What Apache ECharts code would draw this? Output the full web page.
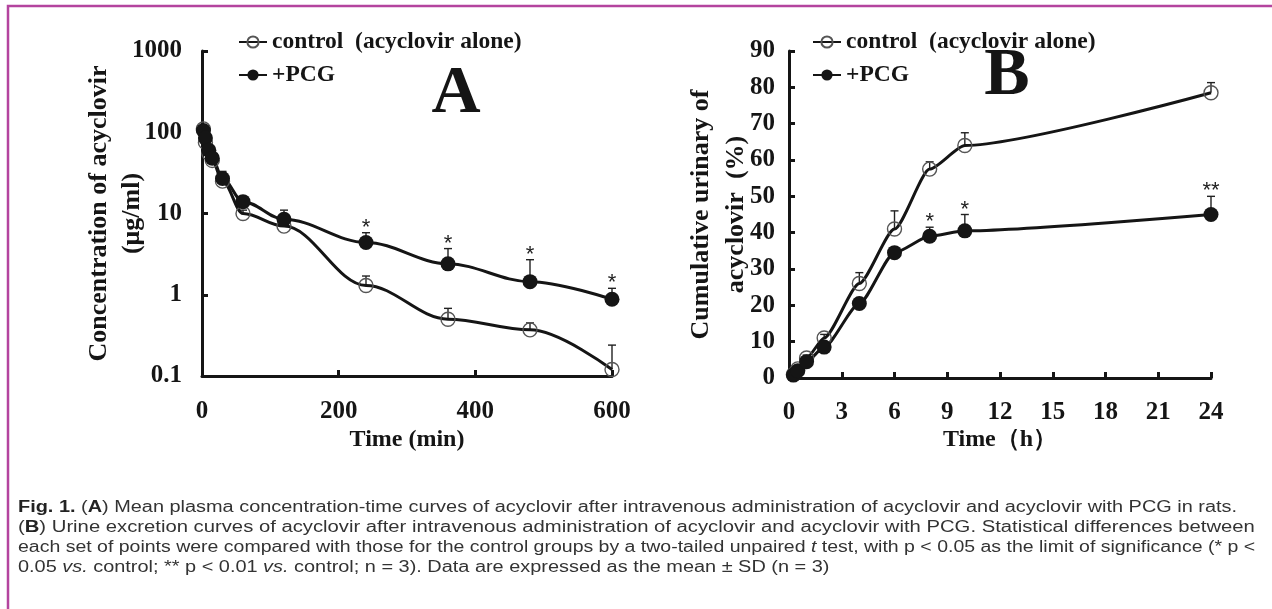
<!DOCTYPE html>
<html>
<head>
<meta charset="utf-8">
<script src="https://cdn.jsdelivr.net/npm/echarts@6/dist/echarts.min.js"></script>
<style>
  html, body { margin: 0; padding: 0; background: #fff; }
  #chart { width: 1272px; height: 609px; }
</style>
</head>
<body>
<div id="chart"></div>
<script>
// Panel A: plasma concentration of acyclovir (µg/ml) against time (min)
const timeA      = [2, 5, 10, 15, 30, 60, 120, 240, 360, 480, 600];
const controlA   = [110, 75, 55, 45, 25, 10, 7, 1.3, 0.5, 0.37, 0.12];
const controlSdA = [8, 6, 5, 4, 8, 1, 0.8, 0.4, 0.18, 0.08, 0.12];
const pcgA       = [105, 85, 60, 48, 27, 14, 8.5, 4.4, 2.4, 1.45, 0.88];
const pcgSdA     = [10, 8, 5, 4, 5, 1.5, 2.5, 1.4, 1.3, 1.25, 0.32];
const sigA       = ['', '', '', '', '', '', '', '*', '*', '*', '*'];

// Panel B: cumulative urinary excretion of acyclovir (%) against time (h)
const timeB      = [0.25, 0.5, 1, 2, 4, 6, 8, 10, 24];
const controlB   = [1, 2.5, 5.5, 11, 26, 41, 57.5, 64, 78.5];
const controlSdB = [0.3, 0.5, 0.8, 1, 3, 5, 2, 3.5, 2.8];
const pcgB       = [0.8, 2, 4.5, 8.5, 20.5, 34.5, 39, 40.5, 45];
const pcgSdB     = [0.2, 0.4, 0.6, 0.8, 1, 1, 2.5, 4.5, 5];
const sigB       = ['', '', '', '', '', '', '*', '*', '**'];

// Figure caption, one entry per printed line ({b|..} bold, {i|..} italic)
const captionLines = [
  '{b|Fig. 1.} ({b|A}) Mean plasma concentration-time curves of acyclovir after intravenous administration of acyclovir and acyclovir with PCG in rats.',
  '({b|B}) Urine excretion curves of acyclovir after intravenous administration of acyclovir and acyclovir with PCG. Statistical differences between',
  'each set of points were compared with those for the control groups by a two-tailed unpaired {i|t} test, with p < 0.05 as the limit of significance (* p <',
  '0.05 {i|vs.} control; ** p < 0.01 {i|vs.} control; n = 3). Data are expressed as the mean ± SD (n = 3)'
];
const captionStretch = [1.244, 1.266, 1.218, 1.244];

const CONTROL = 'control  (acyclovir alone)';
const PCG = '+PCG';
const SERIF = '"Liberation Serif", "Times New Roman", serif';
const SANS = '"Liberation Sans", Arial, Helvetica, sans-serif';
const INK = '#151515';

const chart = echarts.init(document.getElementById('chart'), null, { renderer: 'canvas' });

function pairs(xs, ys) { return xs.map((x, i) => [x, ys[i]]); }

// upward SD bars with a small cap, plus significance stars above the cap
function errorBars(xs, means, sds, marks, axis) {
  return {
    type: 'custom',
    xAxisIndex: axis, yAxisIndex: axis,
    silent: true, z: 2,
    data: xs.map((x, i) => [x, means[i], means[i] + sds[i]]),
    encode: { x: 0, y: [1, 2] },
    renderItem(params, api) {
      const lo = api.coord([api.value(0), api.value(1)]);
      const hi = api.coord([api.value(0), api.value(2)]);
      const mark = marks ? marks[params.dataIndex] : '';
      const st = { stroke: '#222', lineWidth: 1.4 };
      const children = [
        { type: 'line', shape: { x1: lo[0], y1: lo[1], x2: hi[0], y2: hi[1] }, style: st },
        { type: 'line', shape: { x1: hi[0] - 4, y1: hi[1], x2: hi[0] + 4, y2: hi[1] }, style: st }
      ];
      if (mark) {
        children.push({
          type: 'text', x: hi[0], y: hi[1] - 5,
          style: { text: mark, fontFamily: SANS, fontSize: 22, fill: '#222', align: 'center', verticalAlign: 'middle' }
        });
      }
      return { type: 'group', children };
    }
  };
}

function curve(name, xs, ys, axis, filled, smooth) {
  return {
    name, type: 'line',
    xAxisIndex: axis, yAxisIndex: axis,
    data: pairs(xs, ys),
    smooth, smoothMonotone: 'x',
    symbol: 'circle',
    symbolSize: filled ? 15 : 14,
    lineStyle: { color: INK, width: 3 },
    itemStyle: filled
      ? { color: INK, borderColor: INK, borderWidth: 0 }
      : { color: 'rgba(255,255,255,0)', borderColor: '#555', borderWidth: 1.4 },
    z: 3
  };
}

const tickFont = { fontFamily: SERIF, fontWeight: 'bold', fontSize: 25, color: INK };
const nameFont = { fontFamily: SERIF, fontWeight: 'bold', fontSize: 24, color: INK };
const yNameFont = { fontFamily: SERIF, fontWeight: 'bold', fontSize: 26, color: INK };
const axisLine = { show: true, onZero: false, lineStyle: { color: INK, width: 3 } };
const axisTick = { show: true, inside: true, length: 6, lineStyle: { color: INK, width: 3 } };

const legendBase = {
  orient: 'vertical',
  padding: 0,
  itemWidth: 28, itemHeight: 14, itemGap: 9,
  selectedMode: false,
  textStyle: { fontFamily: SERIF, fontWeight: 'bold', fontSize: 23.5, color: INK },
  data: [CONTROL, PCG]
};

const option = {
  backgroundColor: '#fff',
  animation: false,
  grid: [
    { left: 202, top: 51, width: 410, height: 325 },
    { left: 789, top: 51, width: 422, height: 327 }
  ],
  legend: [
    Object.assign({ left: 238, top: 30 }, legendBase),
    Object.assign({ left: 812, top: 30 }, legendBase)
  ],
  xAxis: [
    {
      gridIndex: 0, type: 'value', min: 0, max: 600, interval: 200,
      axisLine, axisTick, splitLine: { show: false },
      axisLabel: Object.assign({ margin: 23 }, tickFont),
      name: 'Time (min)', nameLocation: 'middle', nameGap: 52, nameMoveOverlap: false,
      nameTextStyle: nameFont
    },
    {
      gridIndex: 1, type: 'value', min: 0, max: 24, interval: 3,
      axisLine, axisTick, splitLine: { show: false },
      axisLabel: Object.assign({ margin: 22 }, tickFont),
      name: 'Time（h）', nameLocation: 'middle', nameGap: 50, nameMoveOverlap: false,
      nameTextStyle: nameFont
    }
  ],
  yAxis: [
    {
      gridIndex: 0, type: 'log', logBase: 10, min: 0.1, max: 1000,
      axisLine, axisTick, splitLine: { show: false },
      axisLabel: Object.assign({ margin: 20, formatter: v => String(v) }, tickFont),
      name: 'Concentration of acyclovir\n(μg/ml)', nameLocation: 'middle', nameRotate: 90,
      nameGap: 53, nameMoveOverlap: false,
      nameTextStyle: Object.assign({ lineHeight: 33 }, yNameFont)
    },
    {
      gridIndex: 1, type: 'value', min: 0, max: 90, interval: 10,
      axisLine, axisTick, splitLine: { show: false },
      axisLabel: Object.assign({ margin: 14 }, tickFont),
      name: 'Cumulative urinary of\nacyclovir  (%)', nameLocation: 'middle', nameRotate: 90,
      nameGap: 35, nameMoveOverlap: false,
      nameTextStyle: Object.assign({ lineHeight: 35 }, yNameFont)
    }
  ],
  series: [
    errorBars(timeA, controlA, controlSdA, null, 0),
    errorBars(timeA, pcgA, pcgSdA, sigA, 0),
    curve(CONTROL, timeA, controlA, 0, false, 0.35),
    curve(PCG, timeA, pcgA, 0, true, 0.35),
    errorBars(timeB, controlB, controlSdB, null, 1),
    errorBars(timeB, pcgB, pcgSdB, sigB, 1),
    curve(CONTROL, timeB, controlB, 1, false, 0.22),
    curve(PCG, timeB, pcgB, 1, true, 0.22)
  ],
  graphic: [
    // figure frame
    { type: 'rect', silent: true, shape: { x: 8, y: 6, width: 1400, height: 800 },
      style: { fill: 'none', stroke: '#b4449e', lineWidth: 2.5 } },
    // panel letters
    { type: 'text', x: 456, y: 94, style: { text: 'A', fontFamily: SERIF, fontWeight: 'bold', fontSize: 68, fill: INK, align: 'center', verticalAlign: 'middle' } },
    { type: 'text', x: 1007, y: 76, style: { text: 'B', fontFamily: SERIF, fontWeight: 'bold', fontSize: 68, fill: INK, align: 'center', verticalAlign: 'middle' } },
    // caption
    ...captionLines.map((line, k) => ({
      type: 'text', x: 18, y: 508 + k * 20, scaleX: captionStretch[k],
      style: {
        text: line, fontFamily: SANS, fontSize: 16, fill: '#333', verticalAlign: 'middle',
        rich: {
          b: { fontFamily: SANS, fontSize: 16, fontWeight: 'bold', fill: '#222' },
          i: { fontFamily: SANS, fontSize: 16, fontStyle: 'italic', fill: '#333' }
        }
      }
    }))
  ]
};

chart.setOption(option);
</script>
</body>
</html>
